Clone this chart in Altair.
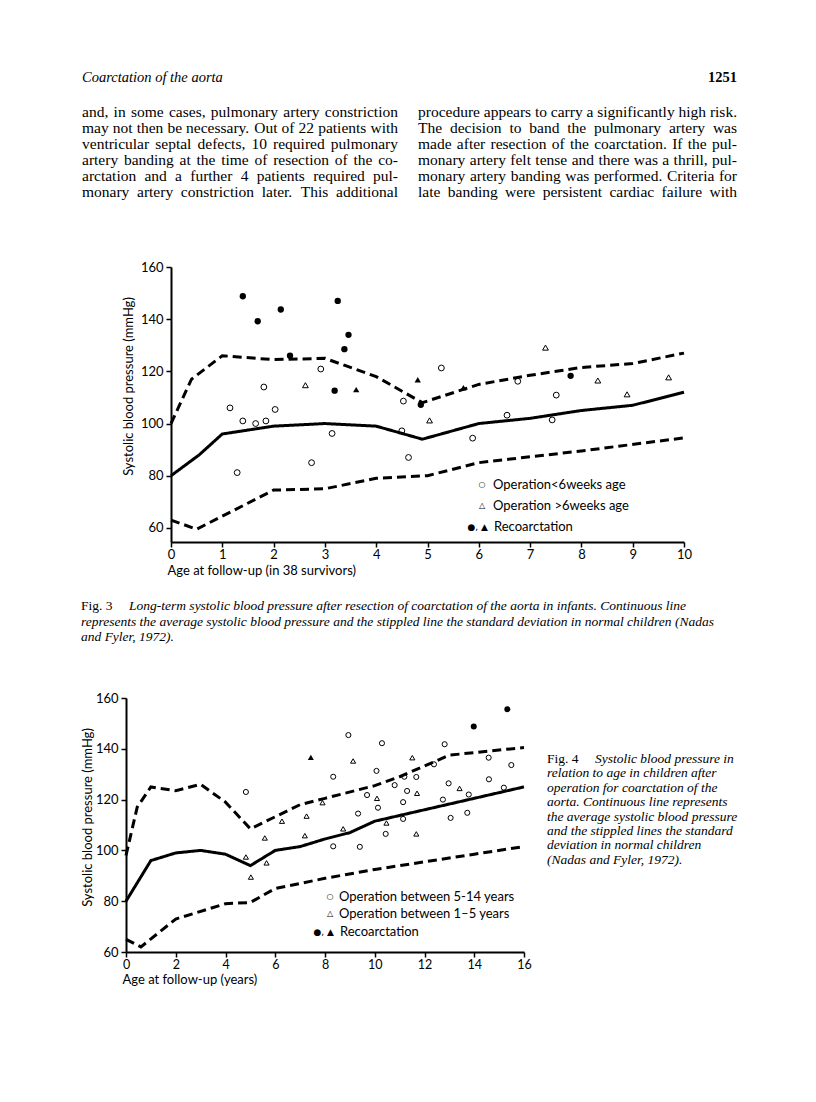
import altair as alt
import pandas as pd

# ---------------- Fig. 3 data (age in years, systolic BP mmHg) ----------------
f3_mean_x = [0, 0.55, 1, 2, 3, 4, 4.9, 6, 7, 8, 9, 10]
f3_mean_y = [80, 88, 96, 99, 100, 99, 94, 100, 102, 105, 107, 112]
f3_up_x = [0, 0.4, 1, 2, 3, 4, 4.9, 6, 7, 8, 9, 10]
f3_up_y = [100, 117, 126, 124.5, 125, 118, 108, 115, 118.5, 121.5, 123, 127]
f3_lo_x = [0, 0.5, 2, 3, 4, 5, 6, 8, 10]
f3_lo_y = [63, 59.5, 74.5, 75, 79, 80, 85, 89.5, 94.5]

f3_oc_x = [1.15, 1.40, 1.65, 1.85, 1.81, 2.03, 2.92, 3.14, 4.53, 4.50, 1.29, 2.74, 4.63, 5.27, 6.76, 7.51, 6.55, 7.43, 5.88]
f3_oc_y = [106, 101, 100, 101, 114, 105.4, 120.9, 96.2, 108.6, 97.2, 81.2, 85, 87, 121.3, 116.2, 110.9, 103.2, 101.4, 94.4]
f3_ot_x = [2.62, 7.30, 8.32, 9.70, 8.89, 5.04]
f3_ot_y = [114.7, 129.1, 116.5, 117.7, 111.2, 101.2]
f3_fc_x = [1.40, 1.69, 2.14, 2.32, 3.25, 3.46, 3.38, 3.19, 4.87, 7.79]
f3_fc_y = [148.8, 139.2, 143.7, 126, 147, 134, 128.5, 112.6, 107.2, 118.3]
f3_ft_x = [3.61, 4.81, 5.70]
f3_ft_y = [113, 116.8, 113.7]

# ---------------- Fig. 4 data ----------------
f4_mean_x = [0, 1, 2, 3, 4, 5, 6, 7, 8, 9, 10, 12, 14, 16]
f4_mean_y = [80, 96, 99, 100, 98.5, 94, 100, 101.5, 104.5, 107, 111.5, 116, 120.5, 125]
f4_up_x = [0, 0.45, 1, 2, 3, 4, 5, 7, 8, 10, 11, 13, 16]
f4_up_y = [98, 117, 125, 123.5, 126, 119, 108.5, 118, 120.5, 125.5, 129, 137.5, 140.5]
f4_lo_x = [0, 0.6, 2, 4, 5, 6, 8, 10, 12, 14, 16]
f4_lo_y = [65, 62, 73, 79, 79.5, 85, 89, 92.5, 95.5, 98.5, 101.5]

f4_oc_x = [4.82, 8.94, 8.33, 9.33, 8.33, 9.40, 10.29, 12.81, 14.58, 15.49, 12.38, 10.07, 11.19, 11.67,
           10.80, 12.97, 14.59, 15.19, 13.78, 11.30, 9.69, 10.13, 11.14, 12.74, 11.14, 13.05, 13.72, 10.44]
f4_oc_y = [123, 145.4, 129, 114.5, 101.6, 101.4, 142.2, 141.8, 136.5, 133.6, 133.9, 131.3, 129, 128.9,
           125.7, 126.4, 128, 124.7, 122, 123.4, 121.8, 116.8, 119, 120, 112.4, 112.8, 114.8, 106.5]
f4_ot_x = [9.13, 7.90, 7.26, 6.27, 8.73, 7.19, 5.58, 4.82, 5.02, 5.65, 11.51, 13.41, 11.70, 10.09, 10.47, 11.67]
f4_ot_y = [135.2, 118.8, 113.5, 111.5, 108.5, 105.8, 104.9, 97.4, 89.5, 95.1, 136.5, 124.4, 122.5, 120.5, 110.8, 106.5]
f4_fc_x = [15.33, 13.98]
f4_fc_y = [155.6, 148.8]
f4_ft_x = [7.43]
f4_ft_y = [136.6]

# ---------------- page text ----------------
header = "Coarctation of the aorta"
page_no = "1251"
col_left = [
    "and, in some cases, pulmonary artery constriction",
    "may not then be necessary. Out of 22 patients with",
    "ventricular septal defects, 10 required pulmonary",
    "artery banding at the time of resection of the co-",
    "arctation and a further 4 patients required pul-",
    "monary artery constriction later. This additional",
]
col_right = [
    "procedure appears to carry a significantly high risk.",
    "The decision to band the pulmonary artery was",
    "made after resection of the coarctation. If the pul-",
    "monary artery felt tense and there was a thrill, pul-",
    "monary artery banding was performed. Criteria for",
    "late banding were persistent cardiac failure with",
]
cap3_lead = "Fig. 3"
cap3_first = "Long-term systolic blood pressure after resection of coarctation of the aorta in infants. Continuous line"
cap3_rest = [
    "represents the average systolic blood pressure and the stippled line the standard deviation in normal children (Nadas",
    "and Fyler, 1972).",
]
cap4_lead = "Fig. 4"
cap4_first = "Systolic blood pressure in"
cap4_rest = [
    "relation to age in children after",
    "operation for coarctation of the",
    "aorta. Continuous line represents",
    "the average systolic blood pressure",
    "and the stippled lines the standard",
    "deviation in normal children",
    "(Nadas and Fyler, 1972).",
]
f3_legend = ["Operation<6weeks age", "Operation >6weeks age", "Recoarctation"]
f4_legend = ["Operation between 5-14 years", "Operation between 1\u20135 years", "Recoarctation"]
sym_open_c, sym_open_t, sym_rec = "\u25cb", "\u25b3", "\u25cf, \u25b2"

SANS = "Lato"
SERIF = "Liberation Serif"
W, H = 800, 1086

# Times-compatible advance widths (1/1000 em) used only to justify the body text
_TW = {" ": 250, ",": 250, ".": 250, "-": 333, "0": 500, "1": 500, "2": 500, "3": 500, "4": 500,
       "5": 500, "6": 500, "7": 500, "8": 500, "9": 500, "C": 667, "I": 333, "O": 722, "T": 611,
       "a": 444, "b": 500, "c": 444, "d": 500, "e": 444, "f": 333, "g": 500, "h": 500, "i": 278,
       "j": 278, "k": 500, "l": 278, "m": 778, "n": 500, "o": 500, "p": 500, "q": 500, "r": 333,
       "s": 389, "t": 278, "u": 500, "v": 500, "w": 722, "x": 500, "y": 500, "z": 444}


def justified(lines, x0, width, y0, lh, size):
    rows = []
    for i, line in enumerate(lines):
        words = line.split(" ")
        ws = [sum(_TW.get(ch, 500) for ch in w) * size / 1000.0 for w in words]
        gap = (width - sum(ws)) / max(len(words) - 1, 1)
        x = x0
        for w, ww in zip(words, ws):
            rows.append({"word": w, "px": x, "py": y0 + i * lh})
            x += ww + gap
    return pd.DataFrame(rows)


def lines_df(parts):
    rows = []
    for name, xs, ys in parts:
        for a, b in zip(xs, ys):
            rows.append({"x": a, "y": b, "s": name})
    return pd.DataFrame(rows)


def pts_df(parts):
    rows = []
    for g, xs, ys in parts:
        for a, b in zip(xs, ys):
            rows.append({"x": a, "y": b, "g": g})
    return pd.DataFrame(rows)


def axis(**kw):
    base = dict(domainColor="black", domainWidth=2, tickColor="black", tickWidth=1.5, tickSize=5,
                labelColor="black", labelFont=SANS, labelFontSize=13, grid=False,
                labelFlush=False, labelOverlap=False,
                titleColor="black", titleFont=SANS, titleFontSize=13, titleFontWeight="normal")
    base.update(kw)
    return alt.Axis(**base)


dash_scale = alt.Scale(domain=["mean", "upper", "lower"], range=[[1, 0], [9, 5], [9, 5]])
shape_scale = alt.Scale(domain=["c", "t"], range=["circle", "triangle-up"])


def figure(xenc, yenc, ldf, odf, fdf, osize, fsize):
    lines = alt.Chart(ldf).mark_line(color="black", strokeWidth=3).encode(
        x=xenc, y=yenc, detail="s:N",
        strokeDash=alt.StrokeDash("s:N", scale=dash_scale, legend=None))
    opn = alt.Chart(odf).mark_point(filled=False, color="black", strokeWidth=1, size=osize, opacity=1).encode(
        x=xenc, y=yenc, shape=alt.Shape("g:N", scale=shape_scale, legend=None))
    fil = alt.Chart(fdf).mark_point(filled=True, color="black", size=fsize, opacity=1).encode(
        x=xenc, y=yenc, shape=alt.Shape("g:N", scale=shape_scale, legend=None))
    return alt.layer(lines, opn, fil)


x3 = alt.X("x:Q", scale=alt.Scale(domain=[0, 10], range=[163, 676], nice=False, zero=False),
           axis=axis(orient="bottom", offset=-552, values=list(range(0, 11)), labelPadding=1,
                     title="Age at follow-up (in 38 survivors)", titleX=159, titleY=28,
                     titleAlign="left", titleBaseline="middle", titleAngle=0))
y3 = alt.Y("y:Q", scale=alt.Scale(domain=[54.6, 160], range=[534, 259], nice=False, zero=False),
           axis=axis(orient="left", offset=-163, values=[60, 80, 100, 120, 140, 160], labelPadding=3,
                     title="Systolic blood pressure (mmHg)", titleX=-43, titleY=378, titleAngle=270,
                     titleAlign="center", titleBaseline="middle"))
fig3 = figure(x3, y3,
              lines_df([("mean", f3_mean_x, f3_mean_y), ("upper", f3_up_x, f3_up_y), ("lower", f3_lo_x, f3_lo_y)]),
              pts_df([("c", f3_oc_x, f3_oc_y), ("t", f3_ot_x, f3_ot_y)]),
              pts_df([("c", f3_fc_x, f3_fc_y), ("t", f3_ft_x, f3_ft_y)]), 34, 40)

x4 = alt.X("x:Q", scale=alt.Scale(domain=[0, 16], range=[118, 516], nice=False, zero=False),
           axis=axis(orient="bottom", offset=-142, values=list(range(0, 17, 2)), labelPadding=1,
                     labelFontSize=12.5,
                     title="Age at follow-up (years)", titleX=114, titleY=27,
                     titleAlign="left", titleBaseline="middle", titleAngle=0))
y4 = alt.Y("y:Q", scale=alt.Scale(domain=[60, 160], range=[944, 690], nice=False, zero=False),
           axis=axis(orient="left", offset=-118, values=[60, 80, 100, 120, 140, 160], labelPadding=3,
                     title="Systolic blood pressure (mmHg)", titleX=-39, titleY=809, titleAngle=270,
                     titleAlign="center", titleBaseline="middle"))
fig4 = figure(x4, y4,
              lines_df([("mean", f4_mean_x, f4_mean_y), ("upper", f4_up_x, f4_up_y), ("lower", f4_lo_x, f4_lo_y)]),
              pts_df([("c", f4_oc_x, f4_oc_y), ("t", f4_ot_x, f4_ot_y)]),
              pts_df([("c", f4_fc_x, f4_fc_y), ("t", f4_ft_x, f4_ft_y)]), 26, 36)

one = pd.DataFrame({"k": [0]})


def txt(text, x, y, size, font=SERIF, style="normal", weight="normal", align="left",
        baseline="alphabetic", lh=None):
    kw = dict(font=font, fontSize=size, fontStyle=style, fontWeight=weight, align=align,
              baseline=baseline, color="black")
    if lh:
        kw["lineHeight"] = lh
    return alt.Chart(one).mark_text(**kw).encode(x=alt.value(x), y=alt.value(y), text=alt.value(text))


CAP = 13.5
BODY = 15.5
body_df = pd.concat([justified(col_left, 74, 316, 109, 16, BODY),
                     justified(col_right, 410, 319, 109, 16, BODY)], ignore_index=True)
body = alt.Chart(body_df).mark_text(font=SERIF, fontSize=BODY, align="left", baseline="alphabetic",
                                    color="black").encode(
    x=alt.X("px:Q", scale=None, axis=None), y=alt.Y("py:Q", scale=None, axis=None), text="word:N")

texts = [
    txt(header, 74, 74, 14.5, style="italic"),
    txt(page_no, 729, 74, 14.5, weight="bold", align="right"),
    txt(cap3_lead, 73, 602, CAP),
    txt(cap3_first, 121, 602, CAP, style="italic"),
    txt(cap3_rest, 73, 617.5, CAP, style="italic", lh=15.5),
    txt(cap4_lead, 539, 755, CAP),
    txt(cap4_first, 587, 755, CAP, style="italic"),
    txt(cap4_rest, 539, 769.4, CAP, style="italic", lh=14.4),
    # Fig. 3 key
    txt(sym_open_c, 474, 477, 8, font="DejaVu Sans", align="center", baseline="middle"),
    txt(sym_open_t, 474, 498, 8, font="DejaVu Sans", align="center", baseline="middle"),
    txt(sym_rec, 480, 519, 9, font="DejaVu Sans", align="right", baseline="middle"),
    txt(f3_legend[0], 485, 477, 13, font=SANS, baseline="middle"),
    txt(f3_legend[1], 485, 498, 13, font=SANS, baseline="middle"),
    txt(f3_legend[2], 486, 519, 13, font=SANS, baseline="middle"),
    # Fig. 4 key
    txt(sym_open_c, 322, 889, 8, font="DejaVu Sans", align="center", baseline="middle"),
    txt(sym_open_t, 322, 906, 8, font="DejaVu Sans", align="center", baseline="middle"),
    txt(sym_rec, 326, 924, 9, font="DejaVu Sans", align="right", baseline="middle"),
    txt(f4_legend[0], 331, 889, 13, font=SANS, baseline="middle"),
    txt(f4_legend[1], 331, 906, 13, font=SANS, baseline="middle"),
    txt(f4_legend[2], 332, 924, 13, font=SANS, baseline="middle"),
]

chart = alt.layer(fig3, fig4, body, *texts).resolve_scale(
    x="independent", y="independent"
).properties(
    width=W, height=H, padding=0, autosize=alt.AutoSizeParams(type="none"),
    view=alt.ViewBackground(stroke="transparent", strokeWidth=0, strokeOpacity=0)
).configure_view(stroke="transparent", strokeWidth=0, strokeOpacity=0).configure(background="white")

chart.save("out.html", embed_options={"renderer": "svg", "actions": False})
